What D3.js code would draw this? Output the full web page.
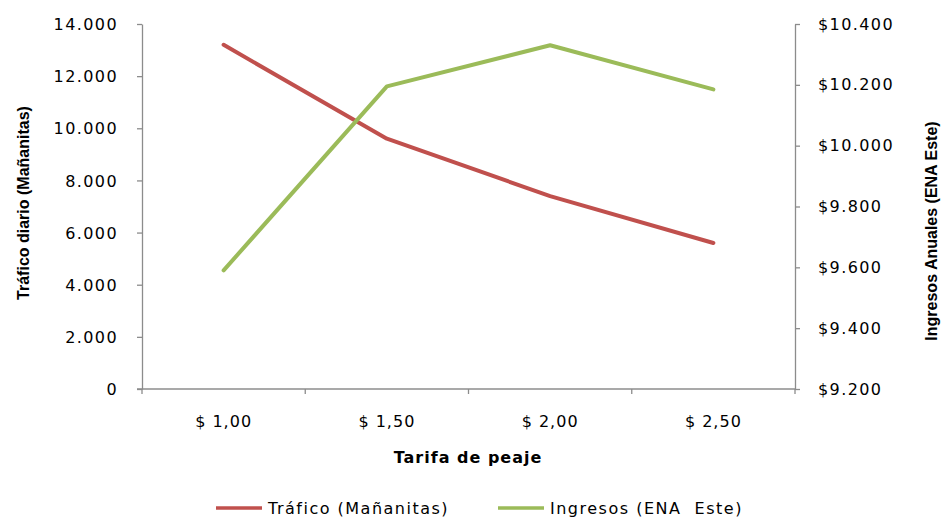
<!DOCTYPE html>
<html>
<head>
<meta charset="utf-8">
<script src="https://cdn.jsdelivr.net/npm/d3@7"></script>
<style>
  html, body { margin: 0; padding: 0; background: #fff; }
  svg { display: block; }
  .tick text { font-family: "DejaVu Sans", Verdana, sans-serif; font-size: 16px; fill: #000; letter-spacing: 1.4px; }
  .title { font-family: "Liberation Sans Narrow", "Arial Narrow", "Liberation Sans", sans-serif; font-weight: bold; font-size: 16px; fill: #000; }
  .legend text { font-family: "DejaVu Sans", Verdana, sans-serif; font-size: 16px; fill: #000; letter-spacing: 1.5px; }
</style>
</head>
<body>
<script>
// Toll price categories and the two series read against them
const tarifas = ["$ 1,00", "$ 1,50", "$ 2,00", "$ 2,50"];
const trafico = [13200, 9600, 7400, 5600];      // daily traffic (Mañanitas)
const ingresos = [9590, 10195, 10330, 10185];   // annual revenue (ENA Este)

const leftTicks = [0, 2000, 4000, 6000, 8000, 10000, 12000, 14000];
const rightTicks = [9200, 9400, 9600, 9800, 10000, 10200, 10400];

const W = 942, H = 517;
const plot = { left: 142, right: 795, top: 24, bottom: 389 };

const svg = d3.select("body").append("svg").attr("width", W).attr("height", H);

const x = d3.scaleBand().domain(tarifas).range([plot.left, plot.right]);
const yL = d3.scaleLinear().domain([0, 14000]).range([plot.bottom, plot.top]);
const yR = d3.scaleLinear().domain([9200, 10400]).range([plot.bottom, plot.top]);

const fmt = d3.formatLocale({ decimal: ",", thousands: ".", grouping: [3], currency: ["$", ""] });
const fmtInt = fmt.format(",.0f");

const axisColor = "#8c8c8c";
function styleAxis(g) {
  g.selectAll(".domain").attr("stroke", axisColor).attr("stroke-width", 1.3);
  g.selectAll(".tick line").attr("stroke", axisColor).attr("stroke-width", 1.3);
}

// Left axis
svg.append("g")
  .attr("transform", `translate(${plot.left},0)`)
  .call(d3.axisLeft(yL).tickValues(leftTicks).tickSize(5).tickSizeOuter(0).tickPadding(19).tickFormat(fmtInt))
  .call(styleAxis)
  .call(g => g.selectAll(".tick text").attr("dy", "0.35em"));

// Right axis
svg.append("g")
  .attr("transform", `translate(${plot.right},0)`)
  .call(d3.axisRight(yR).tickValues(rightTicks).tickSize(5).tickSizeOuter(0).tickPadding(18).tickFormat(d => "$" + fmtInt(d)))
  .call(styleAxis);

// Bottom axis: ticks sit between categories
const xg = svg.append("g").attr("transform", `translate(0,${plot.bottom})`);
xg.append("line")
  .attr("x1", plot.left - 5).attr("x2", plot.right)
  .attr("stroke", axisColor).attr("stroke-width", 1.3);
const bounds = tarifas.map(d => x(d)).concat([plot.right]);
xg.selectAll("line.sep").data(bounds).join("line")
  .attr("class", "sep")
  .attr("x1", d => d).attr("x2", d => d)
  .attr("y1", 0).attr("y2", 5)
  .attr("stroke", axisColor).attr("stroke-width", 1.3);
xg.selectAll("text.cat").data(tarifas).join("text")
  .attr("class", "cat")
  .attr("x", d => x(d) + x.bandwidth() / 2)
  .attr("y", 38)
  .attr("text-anchor", "middle")
  .style("font-family", "DejaVu Sans, Verdana, sans-serif")
  .style("font-size", "16px")
  .style("letter-spacing", "1px")
  .text(d => d);

// Axis titles
svg.append("text").attr("class", "title")
  .attr("x", 468).attr("y", 463).attr("text-anchor", "middle")
  .style("font-family", "DejaVu Sans, sans-serif").style("font-size", "16px")
  .style("letter-spacing", "1px")
  .text("Tarifa de peaje");
svg.append("text").attr("class", "title")
  .attr("transform", "translate(29,203) rotate(-90)").attr("text-anchor", "middle")
  .text("Tráfico diario (Mañanitas)");
svg.append("text").attr("class", "title")
  .attr("transform", "translate(937,231) rotate(-90)").attr("text-anchor", "middle")
  .text("Ingresos Anuales  (ENA Este)");

// Series lines
const cx = d => x(d) + x.bandwidth() / 2;
const lineL = d3.line().x((d, i) => cx(tarifas[i])).y(d => yL(d));
const lineR = d3.line().x((d, i) => cx(tarifas[i])).y(d => yR(d));

svg.append("path").datum(trafico)
  .attr("d", lineL).attr("fill", "none")
  .attr("stroke", "#C0504D").attr("stroke-width", 4)
  .attr("stroke-linecap", "round").attr("stroke-linejoin", "round");
svg.append("path").datum(ingresos)
  .attr("d", lineR).attr("fill", "none")
  .attr("stroke", "#9BBB59").attr("stroke-width", 4)
  .attr("stroke-linecap", "round").attr("stroke-linejoin", "round");

// Legend
const legendItems = [
  { name: "Tráfico (Mañanitas)", color: "#C0504D", x: 216 },
  { name: "Ingresos (ENA  Este)", color: "#9BBB59", x: 498 }
];
const lg = svg.append("g").attr("class", "legend");
const li = lg.selectAll("g").data(legendItems).join("g")
  .attr("transform", d => `translate(${d.x},508)`);
li.append("line").attr("x1", 0).attr("x2", 46).attr("y1", 0).attr("y2", 0)
  .attr("stroke", d => d.color).attr("stroke-width", 3.5);
li.append("text").attr("x", 52).attr("dy", "0.35em")
  .style("white-space", "pre")
  .text(d => d.name);
</script>
</body>
</html>
